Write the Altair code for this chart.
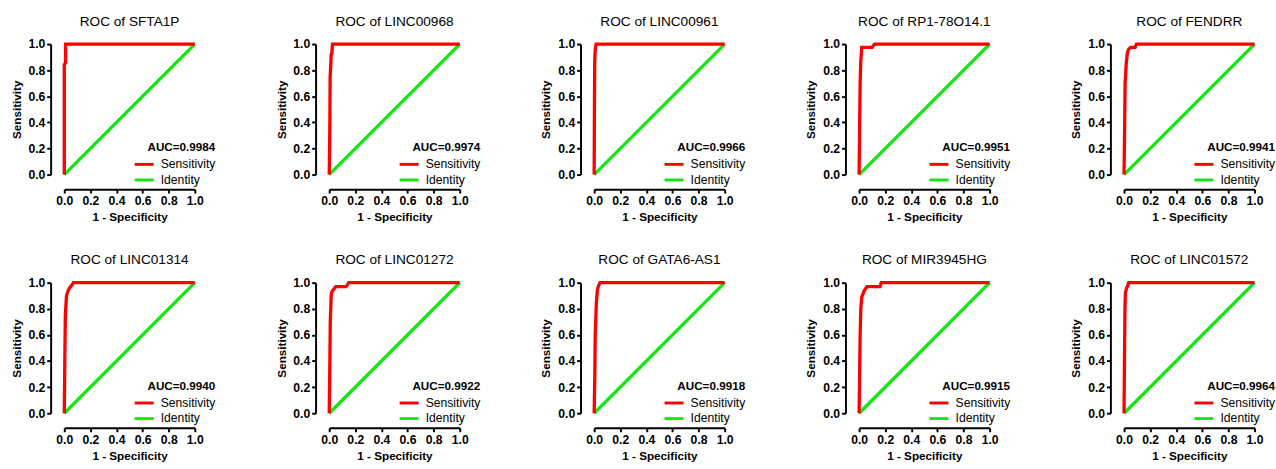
import altair as alt
import pandas as pd

RED = "#ff0000"
GREEN = "#14e614"
FONT = "Liberation Sans"

GENES = ["SFTA1P", "LINC00968", "LINC00961", "RP1-78O14.1", "FENDRR",
         "LINC01314", "LINC01272", "GATA6-AS1", "MIR3945HG", "LINC01572"]
AUC = ["0.9984", "0.9974", "0.9966", "0.9951", "0.9941",
       "0.9940", "0.9922", "0.9918", "0.9915", "0.9964"]

SFTA1P_FPR = [0, 0, 0, 0.005, 0.01, 0.01, 1.0]
SFTA1P_TPR = [0, 0.5, 0.84, 0.85, 0.86, 1.0, 1.0]

LINC00968_FPR = [0, 0.005, 0.007, 0.012, 0.015, 0.02, 0.025, 1.0]
LINC00968_TPR = [0, 0.4, 0.75, 0.85, 0.92, 0.93, 1.0, 1.0]

LINC00961_FPR = [0, 0.002, 0.004, 0.006, 0.01, 0.015, 1.0]
LINC00961_TPR = [0, 0.5, 0.85, 0.92, 0.97, 1.0, 1.0]

RP1_78O14_1_FPR = [0, 0.004, 0.008, 0.012, 0.015, 0.02, 0.1, 0.11, 0.12, 1.0]
RP1_78O14_1_TPR = [0, 0.4, 0.7, 0.85, 0.9, 0.975, 0.975, 0.99, 1.0, 1.0]

FENDRR_FPR = [0, 0.005, 0.008, 0.017, 0.025, 0.035, 0.05, 0.085, 0.095, 1.0]
FENDRR_TPR = [0, 0.4, 0.7, 0.85, 0.93, 0.96, 0.975, 0.975, 1.0, 1.0]

LINC01314_FPR = [0, 0.004, 0.008, 0.017, 0.03, 0.04, 0.06, 0.07, 1.0]
LINC01314_TPR = [0, 0.4, 0.75, 0.9, 0.94, 0.96, 0.985, 1.0, 1.0]

LINC01272_FPR = [0, 0.005, 0.008, 0.015, 0.02, 0.035, 0.05, 0.13, 0.15, 1.0]
LINC01272_TPR = [0, 0.4, 0.7, 0.9, 0.93, 0.95, 0.97, 0.97, 1.0, 1.0]

GATA6_AS1_FPR = [0, 0.005, 0.008, 0.017, 0.025, 0.035, 0.045, 1.0]
GATA6_AS1_TPR = [0, 0.3, 0.6, 0.85, 0.95, 0.98, 1.0, 1.0]

MIR3945HG_FPR = [0, 0.005, 0.008, 0.013, 0.02, 0.04, 0.06, 0.16, 0.17, 1.0]
MIR3945HG_TPR = [0, 0.4, 0.6, 0.8, 0.89, 0.94, 0.97, 0.97, 1.0, 1.0]

LINC01572_FPR = [0, 0.004, 0.007, 0.01, 0.02, 0.03, 0.035, 1.0]
LINC01572_TPR = [0, 0.5, 0.8, 0.92, 0.96, 0.98, 1.0, 1.0]

IDENTITY_X = [0, 1]
IDENTITY_Y = [0, 1]

CURVES = [
    (SFTA1P_FPR, SFTA1P_TPR), (LINC00968_FPR, LINC00968_TPR),
    (LINC00961_FPR, LINC00961_TPR), (RP1_78O14_1_FPR, RP1_78O14_1_TPR),
    (FENDRR_FPR, FENDRR_TPR), (LINC01314_FPR, LINC01314_TPR),
    (LINC01272_FPR, LINC01272_TPR), (GATA6_AS1_FPR, GATA6_AS1_TPR),
    (MIR3945HG_FPR, MIR3945HG_TPR), (LINC01572_FPR, LINC01572_TPR),
]

TICKS = [0, 0.2, 0.4, 0.6, 0.8, 1.0]

AXIS_STYLE = dict(
    grid=False, domainColor="black", domainWidth=2, tickColor="black",
    tickWidth=2, tickSize=4, labelFont=FONT, labelFontSize=12.5,
    labelFontWeight="bold", labelColor="black", labelPadding=2,
    titleFont=FONT, titleFontSize=12, titleFontWeight="bold",
    titleColor="black", titlePadding=5, labelFlush=False, labelOverlap=False,
    values=TICKS, format=".1f",
)


def panel(gene, auc, fpr, tpr):
    n = len(fpr)
    df = pd.DataFrame({
        "fpr": IDENTITY_X + fpr,
        "tpr": IDENTITY_Y + tpr,
        "series": ["Identity"] * 2 + ["Sensitivity"] * n,
        "ord": [0, 1] + list(range(n)),
    })
    color = alt.Color(
        "series:N",
        scale=alt.Scale(domain=["Sensitivity", "Identity"], range=[RED, GREEN]),
        legend=alt.Legend(
            title=f"AUC={auc}", orient="none", legendX=73, legendY=101,
            titleAnchor="end", symbolType="M-1.3,0H1.3", symbolSize=225,
            symbolStrokeWidth=3, titleFont=FONT, titleFontSize=12,
            titleFontWeight="bold", titleColor="black", titlePadding=1.5,
            labelFont=FONT, labelFontSize=12.5, labelColor="black",
            labelOffset=8, rowPadding=0, padding=0,
        ),
    )
    return alt.Chart(
        df,
        title=alt.Title(f"ROC of {gene}", font=FONT, fontSize=14,
                        fontWeight="normal", color="black", offset=9),
    ).mark_line(strokeWidth=3.4, clip=False).encode(
        x=alt.X("fpr:Q", scale=alt.Scale(domain=[0, 1], nice=False),
                axis=alt.Axis(title="1 - Specificity", offset=15, **AXIS_STYLE)),
        y=alt.Y("tpr:Q", scale=alt.Scale(domain=[0, 1], nice=False),
                axis=alt.Axis(title="Sensitivity", offset=14, **AXIS_STYLE)),
        color=color,
        detail="series:N",
        order="ord:Q",
    ).properties(width=134, height=134)


panels = [panel(g, a, c[0], c[1]) for g, a, c in zip(GENES, AUC, CURVES)]

row1 = alt.hconcat(*panels[:5], spacing=60).resolve_scale(color="independent").resolve_legend(color="independent")
row2 = alt.hconcat(*panels[5:], spacing=60).resolve_scale(color="independent").resolve_legend(color="independent")

chart = alt.vconcat(row1, row2, spacing=31).resolve_scale(
    color="independent").resolve_legend(color="independent").properties(
    padding={"left": 10, "top": 9, "right": 0, "bottom": 0},
    background="white",
).configure_view(stroke=None)

chart.save("out.html", embed_options={"renderer": "svg", "actions": False})
